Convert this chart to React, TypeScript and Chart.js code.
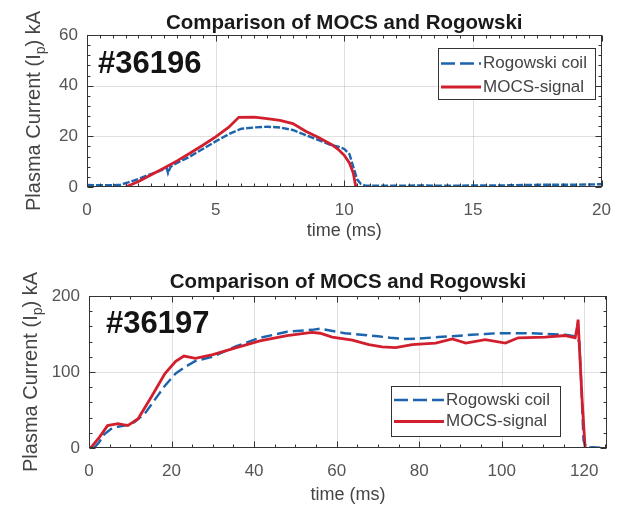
import React, { useEffect, useRef } from "react";
import { Chart, registerables } from "chart.js";

Chart.register(...registerables);

// ---------- Shot #36196 (top panel) ----------
const rogTime1 = [0, 0.5, 1.0, 1.3, 1.6, 2.0, 2.4, 2.8, 3.1, 3.15, 3.25, 3.5, 4.0, 4.5, 5.0, 5.5, 6.0, 6.5, 7.0, 7.5, 8.0, 8.5, 9.0, 9.5, 9.8, 10.0, 10.2, 10.35, 10.5, 10.65, 10.8, 11.0, 12.0, 13.0, 14.0, 15.0, 16.0, 17.0, 18.0, 19.0, 20.0];
const rogCurr1 = [0.8, 0.7, 0.7, 0.9, 1.8, 3.2, 4.8, 6.3, 7.5, 5.5, 8.0, 9.5, 12.0, 15.0, 18.0, 20.8, 23.0, 23.5, 23.8, 23.5, 22.5, 20.5, 18.5, 16.5, 15.8, 15.0, 13.0, 8.0, 3.0, 1.2, 0.6, 0.5, 0.5, 0.6, 0.5, 0.6, 0.6, 0.8, 0.9, 0.9, 1.1];
const mocsTime1 = [1.5, 2.0, 2.5, 3.0, 3.5, 4.0, 4.5, 5.0, 5.5, 5.9, 6.5, 7.0, 7.5, 8.0, 8.5, 9.0, 9.5, 9.75, 10.0, 10.2, 10.35, 10.45];
const mocsCurr1 = [0, 2.2, 4.8, 7.5, 10.3, 13.3, 16.5, 19.8, 23.5, 27.5, 27.6, 27.0, 26.3, 25.0, 22.0, 19.5, 16.8, 15.0, 12.5, 9.5, 5.5, 0];
const xTicks1 = [0, 5, 10, 15, 20];
const yTicks1 = [0, 20, 40, 60];

// ---------- Shot #36197 (bottom panel) ----------
const rogTime2 = [1.2, 2.5, 3.7, 5.3, 7.0, 8.6, 11.0, 13.5, 16.0, 18.4, 21.0, 23.4, 25.8, 30.0, 35.7, 41.4, 48.0, 54.0, 56.0, 62.0, 66.0, 70.0, 73.0, 76.6, 80.0, 84.6, 88.0, 92.7, 96.0, 99.0, 103.0, 107.0, 111.0, 115.4, 117.8, 118.8, 119.3, 119.8, 120.5, 122.0, 124.0];
const rogCurr2 = [0, 8, 18, 25, 28, 29.5, 34, 45, 64, 82, 98, 107, 114.5, 120, 134, 145, 153, 155.5, 157, 151, 149, 147, 145, 143.5, 144, 146, 147, 149, 150, 151, 151, 151, 150, 149, 147, 140, 80, 10, 0.5, 1, 0.5];
const mocsTime2 = [0.4, 2.5, 4.5, 7.0, 9.4, 11.9, 15.2, 18.4, 21.0, 23.0, 25.8, 30.0, 35.7, 41.4, 48.0, 54.0, 56.0, 58.9, 63.8, 67.8, 71.0, 74.3, 78.3, 81.0, 84.0, 88.0, 91.3, 96.0, 100.9, 104.0, 110.5, 115.4, 117.8, 118.3, 118.5, 118.8, 119.5, 120.2];
const mocsCurr2 = [0, 14, 29.5, 32, 29.5, 38.6, 68, 98, 114, 121, 118, 123, 132, 141, 148, 152, 151, 146, 142, 136, 133, 132, 136, 137, 138, 143.5, 138, 142.6, 138, 145, 146, 148, 145, 160, 169, 134, 60, 0];
const xTicks2 = [0, 20, 40, 60, 80, 100, 120];
const yTicks2 = [0, 100, 200];

const chartTitle = "Comparison of MOCS and Rogowski";
const xAxisTitle = "time (ms)";
const yAxisMain = "Plasma Current (I";
const yAxisSub = "p";
const yAxisEnd = ") kA";
const legendLabels = ["Rogowski coil", "MOCS-signal"];
const shotLabels = ["#36196", "#36197"];

const FONT = "'Liberation Sans', Arial, Helvetica, sans-serif";
const BLUE = "#1c64ae";
const RED = "#d21f2e";
const GRID = "rgba(0,0,0,0.12)";
const W = 624;

type Panel = {
  rogT: number[]; rogI: number[]; mocsT: number[]; mocsI: number[];
  xMax: number; yMax: number; xTicks: number[]; yTicks: number[];
  xMinor: number; yMinor: number;
  H: number; area: { left: number; top: number; right: number; bottom: number };
  shot: string; shotX: number; shotY: number;
  titleY: number; yTitleX: number; xTitleY: number;
  leg: { left: number; top: number; w: number; h: number; sample: number; r1: number; r2: number };
  dash: number[];
};

const panels: Panel[] = [
  {
    rogT: rogTime1, rogI: rogCurr1, mocsT: mocsTime1, mocsI: mocsCurr1,
    xMax: 20, yMax: 60, xTicks: xTicks1, yTicks: yTicks1, xMinor: 0.5, yMinor: 4,
    H: 250, area: { left: 87, top: 35, right: 603, bottom: 187 },
    shot: shotLabels[0], shotX: 98, shotY: 73,
    titleY: 28.5, yTitleX: 40, xTitleY: 231,
    leg: { left: 438, top: 48, w: 157, h: 51, sample: 40, r1: 63.5, r2: 87 },
    dash: [7, 2],
  },
  {
    rogT: rogTime2, rogI: rogCurr2, mocsT: mocsTime2, mocsI: mocsCurr2,
    xMax: 125.5, yMax: 200, xTicks: xTicks2, yTicks: yTicks2, xMinor: 5, yMinor: 20,
    H: 257, area: { left: 89, top: 46, right: 607, bottom: 198 },
    shot: shotLabels[1], shotX: 106, shotY: 83,
    titleY: 38, yTitleX: 37, xTitleY: 245,
    leg: { left: 391, top: 136, w: 169, h: 50, sample: 50, r1: 150, r2: 171.5 },
    dash: [11, 5],
  },
];

function decor(p: Panel) {
  return {
    id: "decor",
    beforeDatasetsDraw(chart: any) {
      const { ctx, chartArea: a, scales } = chart;
      const x = scales.x, y = scales.y;
      ctx.save();
      ctx.strokeStyle = GRID;
      ctx.lineWidth = 1;
      p.xTicks.forEach((v) => {
        if (v <= x.min || v >= x.max) return;
        const px = Math.round(x.getPixelForValue(v)) + 0.5;
        ctx.beginPath(); ctx.moveTo(px, a.top); ctx.lineTo(px, a.bottom); ctx.stroke();
      });
      p.yTicks.forEach((v) => {
        if (v <= y.min || v >= y.max) return;
        const py = Math.round(y.getPixelForValue(v)) + 0.5;
        ctx.beginPath(); ctx.moveTo(a.left, py); ctx.lineTo(a.right, py); ctx.stroke();
      });
      ctx.restore();
    },
    afterDatasetsDraw(chart: any) {
      const { ctx, chartArea: a, scales } = chart;
      const x = scales.x, y = scales.y;
      ctx.save();
      ctx.strokeStyle = "#333";
      ctx.lineWidth = 1;
      const L = Math.round(a.left) + 0.5, R = Math.round(a.right) - 0.5;
      const T = Math.round(a.top) + 0.5, B = Math.round(a.bottom) - 0.5;
      ctx.strokeRect(L, T, R - L, B - T);
      const isMajor = (v: number, arr: number[]) => arr.some((t) => Math.abs(t - v) < 1e-6);
      for (let i = 0; ; i++) {
        const v = i * p.xMinor;
        if (v > p.xMax + 1e-9) break;
        const len = isMajor(v, p.xTicks) ? 6 : 3;
        const px = Math.round(x.getPixelForValue(v)) + 0.5;
        ctx.beginPath();
        ctx.moveTo(px, B); ctx.lineTo(px, B - len);
        ctx.moveTo(px, T); ctx.lineTo(px, T + len);
        ctx.stroke();
      }
      for (let i = 0; ; i++) {
        const v = i * p.yMinor;
        if (v > p.yMax + 1e-9) break;
        const len = isMajor(v, p.yTicks) ? 6 : 3;
        const py = Math.round(y.getPixelForValue(v)) + 0.5;
        ctx.beginPath();
        ctx.moveTo(L, py); ctx.lineTo(L + len, py);
        ctx.moveTo(R, py); ctx.lineTo(R - len, py);
        ctx.stroke();
      }
      ctx.fillStyle = "#141414";
      ctx.font = `bold 31px ${FONT}`;
      ctx.textAlign = "left";
      ctx.textBaseline = "alphabetic";
      ctx.fillText(p.shot, p.shotX, p.shotY);
      const g = p.leg;
      ctx.fillStyle = "#fff";
      ctx.fillRect(g.left, g.top, g.w, g.h);
      ctx.strokeStyle = "#333";
      ctx.lineWidth = 1;
      ctx.strokeRect(g.left + 0.5, g.top + 0.5, g.w, g.h);
      const sx0 = g.left + 3, sx1 = g.left + 3 + g.sample;
      ctx.lineWidth = 2.5;
      ctx.strokeStyle = BLUE;
      ctx.setLineDash([14, 5]);
      ctx.beginPath(); ctx.moveTo(sx0, g.r1); ctx.lineTo(sx1, g.r1); ctx.stroke();
      ctx.setLineDash([]);
      ctx.strokeStyle = RED;
      ctx.lineWidth = 3;
      ctx.beginPath(); ctx.moveTo(sx0, g.r2); ctx.lineTo(sx1, g.r2); ctx.stroke();
      ctx.fillStyle = "#444";
      ctx.font = `17px ${FONT}`;
      ctx.textBaseline = "middle";
      ctx.fillText(legendLabels[0], sx1 + 2, g.r1);
      ctx.fillText(legendLabels[1], sx1 + 2, g.r2);
      ctx.restore();
    },
    afterDraw(chart: any) {
      const { ctx, chartArea: a } = chart;
      ctx.save();
      const cx = (a.left + a.right) / 2;
      ctx.fillStyle = "#1a1a1a";
      ctx.font = `bold 20.5px ${FONT}`;
      ctx.textAlign = "center";
      ctx.textBaseline = "alphabetic";
      ctx.fillText(chartTitle, cx, p.titleY);
      ctx.fillStyle = "#444";
      ctx.font = `18px ${FONT}`;
      ctx.textBaseline = "middle";
      ctx.fillText(xAxisTitle, cx, p.xTitleY);
      ctx.translate(p.yTitleX, (a.top + a.bottom) / 2);
      ctx.rotate(-Math.PI / 2);
      ctx.textAlign = "left";
      ctx.textBaseline = "alphabetic";
      ctx.font = `20px ${FONT}`;
      const w1 = ctx.measureText(yAxisMain).width;
      const w3 = ctx.measureText(yAxisEnd).width;
      ctx.font = `14px ${FONT}`;
      const w2 = ctx.measureText(yAxisSub).width;
      let xx = -(w1 + w2 + w3) / 2;
      ctx.font = `20px ${FONT}`;
      ctx.fillText(yAxisMain, xx, 0);
      xx += w1;
      ctx.font = `14px ${FONT}`;
      ctx.fillText(yAxisSub, xx, 5);
      xx += w2;
      ctx.font = `20px ${FONT}`;
      ctx.fillText(yAxisEnd, xx, 0);
      ctx.restore();
    },
  };
}

function makeChart(canvas: HTMLCanvasElement, p: Panel) {
  const rog = p.rogT.map((t, i) => ({ x: t, y: p.rogI[i] }));
  const mocs = p.mocsT.map((t, i) => ({ x: t, y: p.mocsI[i] }));
  const tickFont = { family: FONT, size: 17 };
  return new Chart(canvas, {
    type: "line",
    data: {
      datasets: [
        { label: legendLabels[1], data: mocs, borderColor: RED, borderWidth: 2.8, pointRadius: 0, tension: 0, fill: false },
        { label: legendLabels[0], data: rog, borderColor: BLUE, borderWidth: 2.4, borderDash: p.dash, pointRadius: 0, tension: 0, fill: false },
      ],
    },
    options: {
      animation: false,
      responsive: false,
      events: [],
      layout: { padding: { top: p.area.top, right: W - p.area.right, bottom: 0, left: 0 } },
      plugins: { legend: { display: false }, tooltip: { enabled: false }, title: { display: false } },
      scales: {
        x: {
          type: "linear",
          min: 0,
          max: p.xMax,
          grid: { display: false, drawTicks: false },
          border: { display: false },
          ticks: { font: tickFont, color: "#555", padding: 13, maxRotation: 0, autoSkip: false },
          afterBuildTicks: (s: any) => { s.ticks = p.xTicks.map((v) => ({ value: v })); },
          afterFit: (s: any) => { s.height = p.H - p.area.bottom; },
        },
        y: {
          type: "linear",
          min: 0,
          max: p.yMax,
          grid: { display: false, drawTicks: false },
          border: { display: false },
          ticks: { font: tickFont, color: "#555", padding: 9, autoSkip: false },
          afterBuildTicks: (s: any) => { s.ticks = p.yTicks.map((v) => ({ value: v })); },
          afterFit: (s: any) => { s.width = p.area.left; },
        },
      },
    } as any,
    plugins: [decor(p)],
  });
}

export default function App() {
  const ref1 = useRef<HTMLCanvasElement>(null);
  const ref2 = useRef<HTMLCanvasElement>(null);
  useEffect(() => {
    const c1 = makeChart(ref1.current!, panels[0]);
    const c2 = makeChart(ref2.current!, panels[1]);
    return () => { c1.destroy(); c2.destroy(); };
  }, []);
  return (
    <div style={{ position: "absolute", left: 0, top: 0, width: W, height: 507, background: "#fff" }}>
      <canvas ref={ref1} width={W} height={panels[0].H} style={{ display: "block", width: W, height: panels[0].H }} />
      <canvas ref={ref2} width={W} height={panels[1].H} style={{ display: "block", width: W, height: panels[1].H }} />
    </div>
  );
}
